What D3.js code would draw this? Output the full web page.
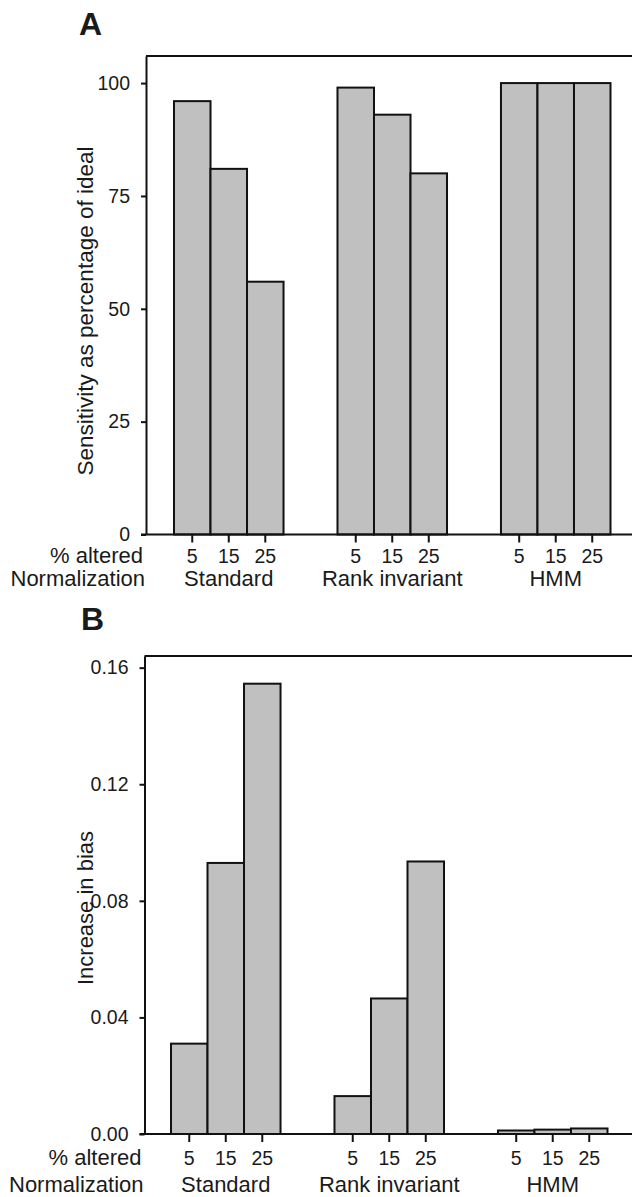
<!DOCTYPE html>
<html>
<head>
<meta charset="utf-8">
<script src="https://cdn.jsdelivr.net/npm/d3@7"></script>
<style>
  body { margin: 0; background: #fff; }
  text { font-family: "Liberation Sans", Arial, sans-serif; fill: #1a1a1a; }
</style>
</head>
<body>
<svg id="chart" width="632" height="1197"></svg>
<script>
// categories
const methods = ["Standard", "Rank invariant", "HMM"];
const altered = ["5", "15", "25"];

// panel A: sensitivity as percentage of ideal
const sensitivity = [
  [96, 81, 56],
  [99, 93, 80],
  [100, 100, 100]
];
const sensTicks = [0, 25, 50, 75, 100];

// panel B: increase in bias
const bias = [
  [0.031, 0.093, 0.1545],
  [0.013, 0.0465, 0.0935],
  [0.0012, 0.0015, 0.0019]
];
const biasTicks = [0, 0.04, 0.08, 0.12, 0.16];

const svg = d3.select("#chart");

/**
 * draws one bar panel with its frame, axes and row labels
 */
function drawPanel(opt) {
  const g = svg.append("g");

  const y = d3.scaleLinear().domain(opt.yDomain).range([opt.base, opt.top]);

  // groups of bars
  const xg = d3.scaleBand()
    .domain(methods)
    .range([opt.barStart, opt.barEnd])
    .paddingInner(0.33)
    .paddingOuter(0);
  const xi = d3.scaleBand().domain(altered).range([0, xg.bandwidth()]);

  const rows = [];
  opt.values.forEach((vals, gi) => {
    vals.forEach((v, i) => {
      rows.push({ m: methods[gi], a: altered[i], v: v });
    });
  });

  g.selectAll("rect.bar")
    .data(rows)
    .join("rect")
    .attr("class", "bar")
    .attr("x", (d) => xg(d.m) + xi(d.a))
    .attr("y", (d) => y(d.v))
    .attr("width", xi.bandwidth())
    .attr("height", (d) => opt.base - y(d.v))
    .attr("fill", "#c0c0c0")
    .attr("stroke", "#111")
    .attr("stroke-width", 2);

  // frame: top line and baseline run off the right edge
  g.append("line")
    .attr("x1", opt.axisX).attr("x2", 660)
    .attr("y1", opt.top).attr("y2", opt.top)
    .attr("stroke", "#111").attr("stroke-width", 2);
  g.append("line")
    .attr("x1", opt.axisX - 5).attr("x2", 660)
    .attr("y1", opt.base).attr("y2", opt.base)
    .attr("stroke", "#111").attr("stroke-width", 2);

  // left axis
  const yAxis = g.append("g")
    .attr("transform", "translate(" + opt.axisX + ",0)")
    .call(d3.axisLeft(y).tickValues(opt.ticks).tickFormat(opt.fmt).tickSize(5).tickSizeOuter(0).tickPadding(11));
  yAxis.select(".domain").attr("stroke", "#111").attr("stroke-width", 2);
  yAxis.selectAll(".tick line").attr("stroke", "#111").attr("stroke-width", 2);
  yAxis.selectAll(".tick text")
    .attr("font-size", opt.numFs + "px")
    .attr("fill", "#1a1a1a")
    .attr("font-family", "Liberation Sans, Arial, sans-serif");

  // bottom ticks under each bar
  g.selectAll("line.xtick")
    .data(rows)
    .join("line")
    .attr("class", "xtick")
    .attr("x1", (d) => xg(d.m) + xi(d.a) + xi.bandwidth() / 2)
    .attr("x2", (d) => xg(d.m) + xi(d.a) + xi.bandwidth() / 2)
    .attr("y1", opt.base)
    .attr("y2", opt.base + 8)
    .attr("stroke", "#111")
    .attr("stroke-width", 2);

  g.selectAll("text.xlab")
    .data(rows)
    .join("text")
    .attr("class", "xlab")
    .attr("x", (d) => xg(d.m) + xi(d.a) + xi.bandwidth() / 2)
    .attr("y", opt.row1)
    .attr("text-anchor", "middle")
    .attr("font-size", opt.numFs + "px")
    .text((d) => d.a);

  g.selectAll("text.glab")
    .data(methods)
    .join("text")
    .attr("class", "glab")
    .attr("x", (d) => xg(d) + xg.bandwidth() / 2)
    .attr("y", opt.row2)
    .attr("text-anchor", "middle")
    .attr("font-size", opt.fs + "px")
    .text((d) => d);

  // row labels
  g.append("text")
    .attr("x", opt.axisX - 3).attr("y", opt.row1)
    .attr("text-anchor", "end").attr("font-size", opt.fs + "px")
    .text("% altered");
  g.append("text")
    .attr("x", opt.axisX - 1).attr("y", opt.row2)
    .attr("text-anchor", "end").attr("font-size", opt.fs + "px")
    .text("Normalization");

  // y title
  g.append("text")
    .attr("transform", "translate(" + opt.titleX + "," + opt.titleY + ") rotate(-90)")
    .attr("text-anchor", "middle")
    .attr("font-size", opt.titleFs + "px")
    .text(opt.title);

  // panel letter
  g.append("text")
    .attr("x", opt.letterX).attr("y", opt.letterY)
    .attr("font-size", "32px").attr("font-weight", "bold")
    .attr("fill", "#000")
    .text(opt.letter);
}

drawPanel({
  values: sensitivity, ticks: sensTicks, fmt: d3.format("d"),
  yDomain: [0, 106], axisX: 146, top: 56, base: 534.5,
  barStart: 174, barEnd: 610.5,
  row1: 563, row2: 586, fs: 22, numFs: 19.5, titleFs: 22.5,
  title: "Sensitivity as percentage of ideal", titleX: 93, titleY: 311,
  letter: "A", letterX: 79, letterY: 35
});

drawPanel({
  values: bias, ticks: biasTicks, fmt: d3.format(".2f"),
  yDomain: [0, 0.164], axisX: 144.5, top: 656, base: 1134,
  barStart: 171, barEnd: 607.5,
  row1: 1165, row2: 1192, fs: 22, numFs: 19.5, titleFs: 22,
  title: "Increase in bias", titleX: 93, titleY: 908,
  letter: "B", letterX: 81, letterY: 630
});
</script>
</body>
</html>
